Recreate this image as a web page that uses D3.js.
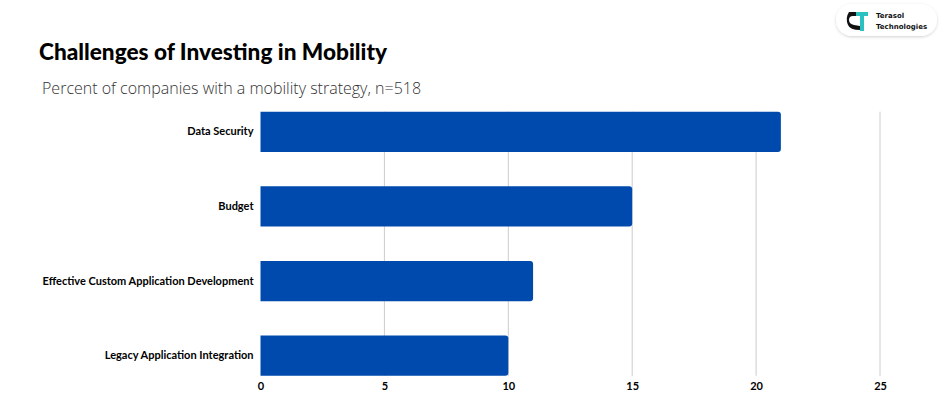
<!DOCTYPE html>
<html>
<head>
<meta charset="utf-8">
<script src="https://cdn.jsdelivr.net/npm/d3@7"></script>
<style>
  body { margin: 0; background: #fff; }
  svg { display: block; }
</style>
</head>
<body>
<div id="chart"></div>
<script>
const categories = ["Data Security", "Budget", "Effective Custom Application Development", "Legacy Application Integration"];
const values = [21, 15, 11, 10];
const tickValues = [0, 5, 10, 15, 20, 25];

const W = 950, H = 400;
const margin = { left: 260.5, right: 70, top: 94.5, bottom: 8 };

const svg = d3.select("#chart").append("svg")
    .attr("width", W)
    .attr("height", H);

// title + subtitle
svg.append("text")
    .attr("x", 39)
    .attr("y", 60)
    .style("font-family", "Lato, 'Noto Sans', sans-serif")
    .style("font-weight", "900")
    .style("font-size", "22.6px")
    .style("fill", "#000")
    .text("Challenges of Investing in Mobility");

svg.append("text")
    .attr("x", 42)
    .attr("y", 94)
    .style("font-family", "'Open Sans', sans-serif")
    .style("font-weight", "300")
    .style("font-size", "16px")
    .style("fill", "#333")
    .text("Percent of companies with a mobility strategy, n=518");

// logo badge
var defs = svg.append("defs");
var f = defs.append("filter").attr("id", "sh").attr("x", "-20%").attr("y", "-40%").attr("width", "140%").attr("height", "180%");
f.append("feDropShadow").attr("dx", 0).attr("dy", 1).attr("stdDeviation", 1.5).attr("flood-color", "#000").attr("flood-opacity", 0.18);

var logo = svg.append("g").attr("transform", "translate(836,4)");
logo.append("rect")
    .attr("width", 101).attr("height", 32).attr("rx", 16)
    .style("fill", "#fff").attr("filter", "url(#sh)");
// rough "TS" mark: dark S-ish shape with teal T
logo.append("path")
    .attr("d", "M13,8 h11 v4 h-7 q-4,0 -4,4 q0,4 5,5 l6,1 v4 q-10,0 -12,-5 q-3,-7 1,-13 z")
    .style("fill", "#111");
logo.append("path")
    .attr("d", "M20,8 h12 v4 h-4 v15 h-4 v-15 h-4 z")
    .style("fill", "#2bc1c1");
logo.append("text").attr("x", 40).attr("y", 14)
    .style("font-family", "'DejaVu Sans', sans-serif").style("font-weight", "bold")
    .style("font-size", "7px").style("fill", "#111").text("Terasol");
logo.append("text").attr("x", 40).attr("y", 25)
    .style("font-family", "'DejaVu Sans', sans-serif").style("font-weight", "bold")
    .style("font-size", "7px").style("fill", "#111").text("Technologies");

// scales
var x = d3.scaleLinear()
    .domain([0, 25])
    .range([margin.left, 880]);

var y = d3.scaleBand()
    .domain(categories)
    .range([margin.top, 393])
    .paddingInner(0.46)
    .paddingOuter(0.23);

var plotTop = y(categories[0]);
var plotBottom = y(categories[categories.length - 1]) + y.bandwidth();

// gridlines
svg.append("g")
    .selectAll("line")
    .data(tickValues.slice(1))
    .enter().append("line")
    .attr("x1", function (d) { return x(d); })
    .attr("x2", function (d) { return x(d); })
    .attr("y1", plotTop)
    .attr("y2", plotBottom)
    .style("stroke", "#cccccc")
    .style("stroke-width", 1);

// bars, slightly rounded at the end
svg.append("g")
    .selectAll("path")
    .data(values)
    .enter().append("path")
    .attr("d", function (d, i) {
        var x0 = x(0), x1 = x(d), y0 = y(categories[i]), h = y.bandwidth(), r = 3;
        return "M" + x0 + "," + y0 + "H" + (x1 - r) + "Q" + x1 + "," + y0 + " " + x1 + "," + (y0 + r) +
            "V" + (y0 + h - r) + "Q" + x1 + "," + (y0 + h) + " " + (x1 - r) + "," + (y0 + h) + "H" + x0 + "Z";
    })
    .style("fill", "#004aad");

// y axis labels
var yAxis = svg.append("g")
    .attr("transform", "translate(" + (margin.left - 7) + ",0)")
    .call(d3.axisLeft(y).tickSize(0).tickPadding(0));
yAxis.select(".domain").remove();
yAxis.selectAll("text")
    .style("font-family", "Lato, 'Noto Sans', sans-serif")
    .style("font-weight", "bold")
    .style("font-size", "11px")
    .style("fill", "#000");

// x axis labels
var xAxis = svg.append("g")
    .attr("transform", "translate(0," + (plotBottom + 6) + ")")
    .call(d3.axisBottom(x).tickValues(tickValues).tickSize(0).tickPadding(0));
xAxis.select(".domain").remove();
xAxis.selectAll("text")
    .style("font-family", "Lato, 'Noto Sans', sans-serif")
    .style("font-weight", "bold")
    .style("font-size", "11px")
    .style("fill", "#000");
</script>
</body>
</html>
